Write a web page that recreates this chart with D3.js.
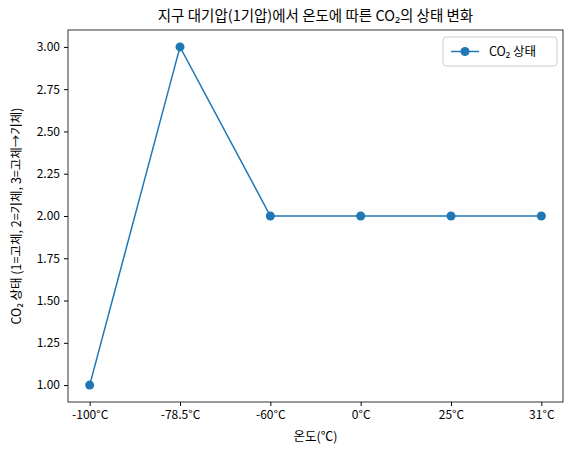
<!DOCTYPE html>
<html><head><meta charset="utf-8">
<script src="https://cdn.jsdelivr.net/npm/d3@7"></script>
<style>body{margin:0;background:#fff}text{font-family:"Noto Sans CJK KR","Noto Sans",sans-serif}</style>
</head><body>
<svg width="573" height="455"></svg>
<script>
const temps = ["-100°C", "-78.5°C", "-60°C", "0°C", "25°C", "31°C"]
const states = [1, 3, 2, 2, 2, 2]
const yTicks = [1.00, 1.25, 1.50, 1.75, 2.00, 2.25, 2.50, 2.75, 3.00]

const svg = d3.select("svg")
const m = {left: 68, right: 10, top: 30, bottom: 53}
const w = 573 - m.left - m.right
const h = 455 - m.top - m.bottom
const color = "#1f77b4"

const x = d3.scalePoint().domain(temps).range([0, w]).padding(0.24)
const y = d3.scaleLinear().domain([0.9, 3.1]).range([h, 0])

const g = svg.append("g").attr("transform", `translate(${m.left},${m.top})`)

const xa = g.append("g").attr("transform", `translate(0,${h})`)
    .call(d3.axisBottom(x).tickSizeOuter(0).tickSize(4).tickPadding(4))
const ya = g.append("g")
    .call(d3.axisLeft(y).tickValues(yTicks).tickFormat(d3.format(".2f")).tickSizeOuter(0).tickSize(4).tickPadding(4))
for (const a of [xa, ya]) {
    a.select(".domain").remove()
    a.selectAll("text").attr("font-size", 12).attr("fill", "#000")
        .style("font-family", '"Noto Sans CJK KR","Noto Sans",sans-serif')
}

g.append("rect").attr("width", w).attr("height", h)
    .attr("fill", "none").attr("stroke", "#000").attr("stroke-width", 0.8)

g.append("path").datum(states.map((s, i) => [temps[i], s]))
    .attr("fill", "none").attr("stroke", color).attr("stroke-width", 1.5)
    .attr("d", d3.line().x(d => x(d[0])).y(d => y(d[1])))

g.selectAll("circle.pt").data(states).join("circle")
    .attr("cx", (d, i) => x(temps[i])).attr("cy", d => y(d))
    .attr("r", 4.5).attr("fill", color)

svg.append("text").attr("x", m.left + w / 2).attr("y", 21).attr("text-anchor", "middle")
    .attr("font-size", 14.5).text("지구 대기압(1기압)에서 온도에 따른 CO₂의 상태 변화")
svg.append("text").attr("x", m.left + w / 2).attr("y", 441).attr("text-anchor", "middle")
    .attr("font-size", 12.5).text("온도(℃)")
svg.append("text").attr("transform", `translate(21,${m.top + h / 2}) rotate(-90)`)
    .attr("text-anchor", "middle").attr("font-size", 12.5)
    .text("CO₂ 상태 (1=고체, 2=기체, 3=고체→기체)")

const lg = g.append("g").attr("transform", `translate(${w - 120},7)`)
lg.append("rect").attr("width", 114).attr("height", 29).attr("rx", 3)
    .attr("fill", "#fff").attr("stroke", "#ccc")
lg.append("line").attr("x1", 8).attr("x2", 36).attr("y1", 14.5).attr("y2", 14.5)
    .attr("stroke", color).attr("stroke-width", 1.5)
lg.append("circle").attr("cx", 22).attr("cy", 14.5).attr("r", 4.5).attr("fill", color)
lg.append("text").attr("x", 46).attr("y", 19).attr("font-size", 12.5).text("CO₂ 상태")
</script>
</body></html>
